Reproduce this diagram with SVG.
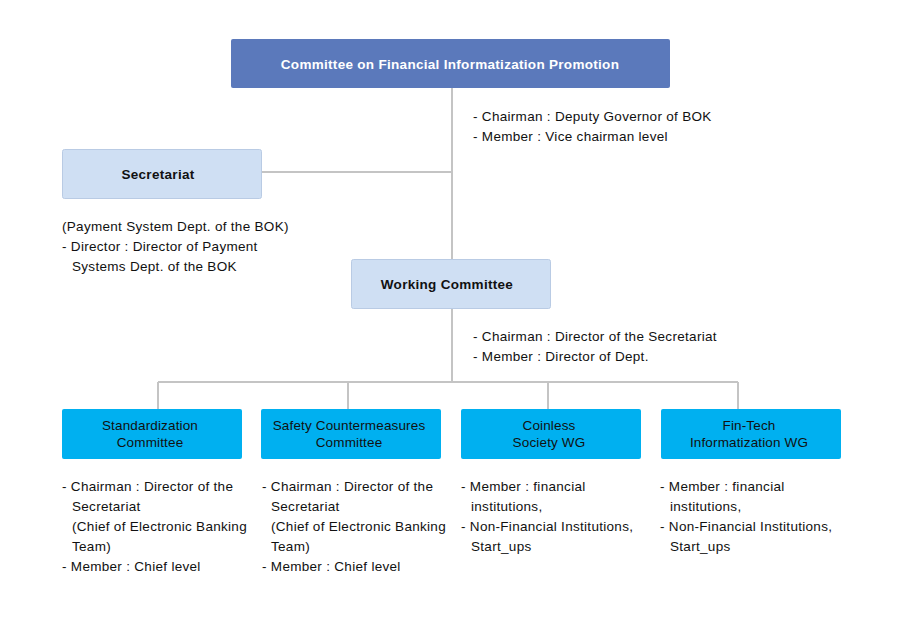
<svg xmlns="http://www.w3.org/2000/svg" width="903" height="618" viewBox="0 0 903 618">
<style>
.t{font-family:"Liberation Sans","Noto Sans",sans-serif;font-size:13.5px;letter-spacing:0.3px;fill:#111}
.b{font-family:"Liberation Sans","Noto Sans",sans-serif;font-size:13.5px;letter-spacing:0.3px;font-weight:bold;fill:#111;text-anchor:middle}
.w{fill:#fff}
.l{font-family:"Liberation Sans","Noto Sans",sans-serif;font-size:13.5px;letter-spacing:0.15px;fill:#111;text-anchor:middle}
.lb{fill:#cfdff3;stroke:#b9cbe4;stroke-width:1}
.cy{fill:#00b0f0}
.c{stroke:#c4c4c4;stroke-width:2;fill:none}
</style>
<rect width="903" height="618" fill="#fff"/>
<g id="connectors">
<path class="c" d="M452 88V382M261 172H452M158 382H738M158 382V409M348 382V409M548 382V409M738 382V409"/>
</g>
<g id="top">
<rect x="231" y="39" width="439" height="49" rx="2" fill="#5b79bb"/>
<text class="b w" x="450" y="69">Committee on Financial Informatization Promotion</text>
<text class="t" x="473" y="121">- Chairman : Deputy Governor of BOK</text>
<text class="t" x="473" y="141">- Member : Vice chairman level</text>
</g>
<g id="secretariat">
<rect class="lb" x="62.5" y="149.5" width="199" height="49" rx="2"/>
<text class="b" x="158" y="179">Secretariat</text>
<text class="t" x="62" y="231">(Payment System Dept. of the BOK)</text>
<text class="t" x="62" y="251">- Director : Director of Payment</text>
<text class="t" x="72" y="271">Systems Dept. of the BOK</text>
</g>
<g id="working">
<rect class="lb" x="351.5" y="259.5" width="199" height="49" rx="2"/>
<text class="b" x="447" y="289">Working Committee</text>
<text class="t" x="473" y="341">- Chairman : Director of the Secretariat</text>
<text class="t" x="473" y="361">- Member : Director of Dept.</text>
</g>
<g id="standardization">
<rect class="cy" x="62" y="409" width="180" height="50" rx="2"/>
<text class="l" x="150" y="430">Standardization</text>
<text class="l" x="150" y="447">Committee</text>
<text class="t" x="62" y="491">- Chairman : Director of the</text>
<text class="t" x="72" y="511">Secretariat</text>
<text class="t" x="72" y="531">(Chief of Electronic Banking</text>
<text class="t" x="72" y="551">Team)</text>
<text class="t" x="62" y="571">- Member : Chief level</text>
</g>
<g id="safety">
<rect class="cy" x="261" y="409" width="180" height="50" rx="2"/>
<text class="l" x="349" y="430">Safety Countermeasures</text>
<text class="l" x="349" y="447">Committee</text>
<text class="t" x="262" y="491">- Chairman : Director of the</text>
<text class="t" x="271" y="511">Secretariat</text>
<text class="t" x="271" y="531">(Chief of Electronic Banking</text>
<text class="t" x="271" y="551">Team)</text>
<text class="t" x="262" y="571">- Member : Chief level</text>
</g>
<g id="coinless">
<rect class="cy" x="461" y="409" width="180" height="50" rx="2"/>
<text class="l" x="549" y="430">Coinless</text>
<text class="l" x="549" y="447">Society WG</text>
<text class="t" x="461" y="491">- Member : financial</text>
<text class="t" x="471" y="511">institutions,</text>
<text class="t" x="461" y="531">- Non-Financial Institutions,</text>
<text class="t" x="471" y="551">Start_ups</text>
</g>
<g id="fintech">
<rect class="cy" x="661" y="409" width="180" height="50" rx="2"/>
<text class="l" x="749" y="430">Fin-Tech</text>
<text class="l" x="749" y="447">Informatization WG</text>
<text class="t" x="660" y="491">- Member : financial</text>
<text class="t" x="670" y="511">institutions,</text>
<text class="t" x="660" y="531">- Non-Financial Institutions,</text>
<text class="t" x="670" y="551">Start_ups</text>
</g>
</svg>
